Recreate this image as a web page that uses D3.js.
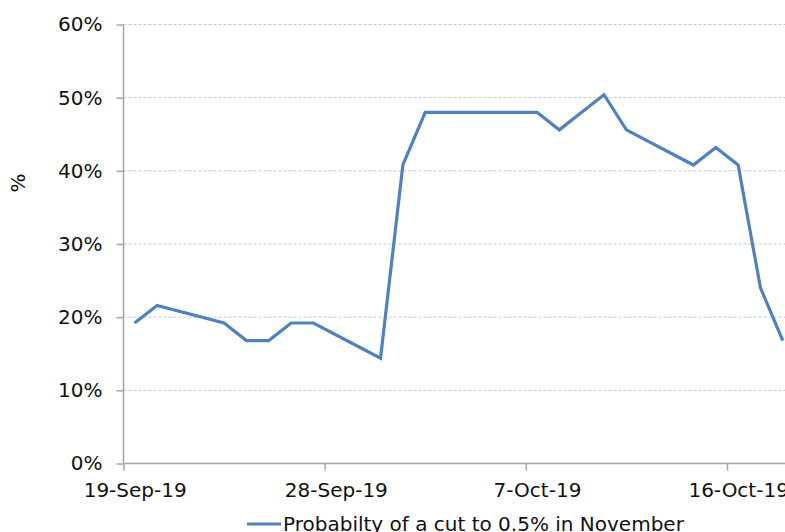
<!DOCTYPE html>
<html>
<head>
<meta charset="utf-8">
<script src="https://cdn.jsdelivr.net/npm/d3@7"></script>
<style>
  body { margin: 0; background: #fff; }
  svg { display: block; font-family: "DejaVu Sans", Verdana, sans-serif; }
</style>
</head>
<body>
<svg id="chart" width="785" height="532"></svg>
<script>
// data
var dates = [
  "2019-09-19", "2019-09-20", "2019-09-23", "2019-09-24", "2019-09-25", "2019-09-26",
  "2019-09-27", "2019-09-30", "2019-10-01", "2019-10-02", "2019-10-03", "2019-10-04",
  "2019-10-07", "2019-10-08", "2019-10-09", "2019-10-10", "2019-10-11", "2019-10-14",
  "2019-10-15", "2019-10-16", "2019-10-17", "2019-10-18"
];
var probCut = [
  19.2, 21.6, 19.2, 16.8, 16.8, 19.2,
  19.2, 14.4, 40.8, 48.0, 48.0, 48.0,
  48.0, 45.6, 48.0, 50.4, 45.6, 40.8,
  43.2, 40.8, 24.0, 16.8
];
var xTickDates = ["2019-09-19", "2019-09-28", "2019-10-07", "2019-10-16"];
var yTicks = [0, 10, 20, 30, 40, 50, 60];
var seriesName = "Probabilty of a cut to 0.5% in November";

var parse = d3.utcParse("%Y-%m-%d");
var fmt = d3.utcFormat("%-d-%b-%y");

var data = dates.map(function (d, i){
  // Excel places date points in the middle of the day slot
  return { date: d3.utcHour.offset(parse(d), 12), value: probCut[i] };
});

var svg = d3.select("#chart");

var x = d3.scaleUtc()
  .domain([parse("2019-09-19"), parse("2019-10-19")])
  .range([123.5, 794]);

var y = d3.scaleLinear()
  .domain([0, 60])
  .range([463.5, 24.5]);

var axisColor = "#a6a6a6";
var fontSize = "20px";
var halfDay = x(d3.utcHour.offset(x.domain()[0], 12)) - x.range()[0];

// gridlines
svg.append("g")
  .selectAll("line")
  .data(yTicks.filter(function (t){ return t > 0; }))
  .enter().append("line")
  .attr("x1", x.range()[0])
  .attr("x2", x.range()[1])
  .attr("y1", function (d){ return y(d); })
  .attr("y2", function (d){ return y(d); })
  .style("stroke", "#b9c9d6")
  .style("stroke-width", "1px")
  .style("stroke-dasharray", "3,2");

// y axis
var yAxisG = svg.append("g")
  .attr("transform", "translate(" + x.range()[0] + ",0)")
  .call(d3.axisLeft(y)
    .tickValues(yTicks)
    .tickSize(7)
    .tickPadding(14)
    .tickFormat(function (d){ return d + "%"; }));

// x axis
var xAxisG = svg.append("g")
  .attr("transform", "translate(0," + y(0) + ")")
  .call(d3.axisBottom(x)
    .tickValues(xTickDates.map(parse))
    .tickSize(7)
    .tickPadding(12)
    .tickFormat(fmt));

// date labels sit in the middle of their day slot
xAxisG.selectAll(".tick text").attr("dx", halfDay);

[yAxisG, xAxisG].forEach(function (g){
  g.selectAll(".domain").style("stroke", axisColor).style("stroke-width", "1.5px");
  g.selectAll(".tick line").style("stroke", axisColor).style("stroke-width", "1.5px");
  g.selectAll("text")
    .style("font-family", "'DejaVu Sans', Verdana, sans-serif")
    .style("font-size", fontSize)
    .style("fill", "#111");
});
yAxisG.select(".domain").attr("d", "M0," + y(60) + "V" + y(0));
xAxisG.select(".domain").attr("d", "M" + x.range()[0] + ",0H" + x.range()[1]);

// y axis title
svg.append("text")
  .attr("transform", "translate(25,183) rotate(-90)")
  .attr("text-anchor", "middle")
  .style("font-size", fontSize)
  .style("fill", "#111")
  .text("%");

// series line
var line = d3.line()
  .x(function (d){ return x(d.date); })
  .y(function (d){ return y(d.value); });

svg.append("path")
  .datum(data)
  .attr("d", line)
  .style("fill", "none")
  .style("stroke", "#4f81bd")
  .style("stroke-width", "3.2px")
  .style("stroke-linejoin", "miter");

// legend
var legend = svg.append("g").attr("transform", "translate(247,524)");
legend.append("line")
  .attr("x1", 0).attr("x2", 34)
  .style("stroke", "#4f81bd")
  .style("stroke-width", "3.2px");
legend.append("text")
  .attr("x", 36)
  .attr("y", 7)
  .style("font-size", fontSize)
  .style("fill", "#111")
  .text(seriesName);
</script>
</body>
</html>
